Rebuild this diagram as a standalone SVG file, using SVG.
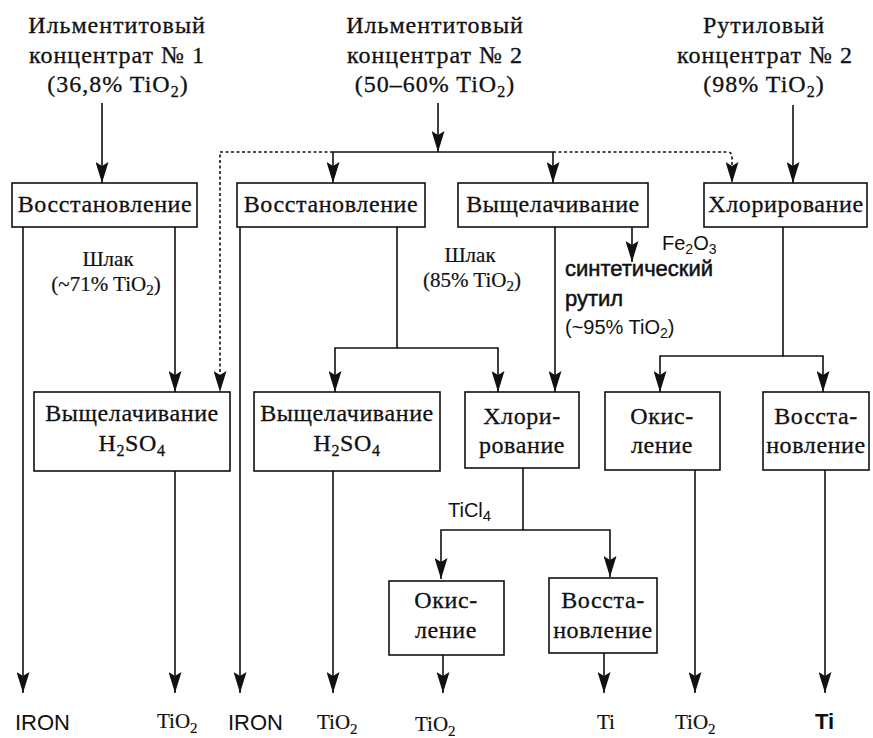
<svg xmlns="http://www.w3.org/2000/svg" width="873" height="738" viewBox="0 0 873 738">
<style>
.bg{fill:#fff}
.box{fill:#fff;stroke:#111;stroke-width:1.6}
.hd{font-family:"Liberation Serif","Times New Roman",serif;font-size:24px;letter-spacing:1px;fill:#111;stroke:#111;stroke-width:0.3;text-anchor:middle}
.bt{font-family:"Liberation Serif","Times New Roman",serif;font-size:24px;letter-spacing:0.6px;fill:#111;stroke:#111;stroke-width:0.3;text-anchor:middle}
.lb{font-family:"Liberation Serif","Times New Roman",serif;font-size:21px;fill:#111;stroke:#111;stroke-width:0.2;text-anchor:middle}
.sn{font-family:"Liberation Sans",Arial,sans-serif;font-size:22px;fill:#111}
.ss{font-family:"Liberation Sans",Arial,sans-serif;font-size:20px;fill:#111}
.ot{font-family:"Liberation Serif","Times New Roman",serif;font-size:21px;fill:#111;stroke:#111;stroke-width:0.2}
.ln{fill:none;stroke:#111;stroke-width:1.6}
.ds{fill:none;stroke:#111;stroke-width:1.6;stroke-dasharray:3 2.5}
</style>
<defs>
<marker id="ah" markerWidth="13" markerHeight="21" refX="6.5" refY="21" orient="0" markerUnits="userSpaceOnUse" viewBox="0 0 13 21">
<path d="M0,0 L6.5,4 L13,0 L6.5,21 z" fill="#111"/>
</marker>
</defs>
<rect class="bg" x="0" y="0" width="873" height="738"/>

<g id="src1">
<text class="hd" x="117" y="33">Ильментитовый</text>
<text class="hd" x="117" y="63">концентрат № 1</text>
<text class="hd" x="118" y="92">(36,8% TiO<tspan dy="5" font-size="16">2</tspan><tspan dy="-5">)</tspan></text>
</g>
<g id="src2">
<text class="hd" x="435" y="33">Ильментитовый</text>
<text class="hd" x="435" y="63">концентрат № 2</text>
<text class="hd" x="435" y="92">(50–60% TiO<tspan dy="5" font-size="16">2</tspan><tspan dy="-5">)</tspan></text>
</g>
<g id="src3">
<text class="hd" x="764" y="33">Рутиловый</text>
<text class="hd" x="765" y="63">концентрат № 2</text>
<text class="hd" x="764" y="92">(98% TiO<tspan dy="5" font-size="16">2</tspan><tspan dy="-5">)</tspan></text>
</g>

<g id="connectors">
<path class="ln" d="M102,103 V183" marker-end="url(#ah)"/>
<path class="ln" d="M438,103 V152" marker-end="url(#ah)"/>
<path class="ln" d="M333,152 H553"/>
<path class="ln" d="M333,152 V183" marker-end="url(#ah)"/>
<path class="ln" d="M553,152 V183" marker-end="url(#ah)"/>
<path class="ds" d="M333,152 H220 V392" marker-end="url(#ah)"/>
<path class="ds" d="M553,152 H727 Q732,152 732,157 V183" marker-end="url(#ah)"/>
<path class="ln" d="M793,105 V183" marker-end="url(#ah)"/>
<path class="ln" d="M23,227 V693" marker-end="url(#ah)"/>
<path class="ln" d="M175,227 V392" marker-end="url(#ah)"/>
<path class="ln" d="M240,227 V693" marker-end="url(#ah)"/>
<path class="ln" d="M397,227 V348 H335 V392" marker-end="url(#ah)"/>
<path class="ln" d="M397,348 H498 V392" marker-end="url(#ah)"/>
<path class="ln" d="M555,227 V392" marker-end="url(#ah)"/>
<path class="ln" d="M632,227 V262" marker-end="url(#ah)"/>
<path class="ln" d="M783,227 V356 H660 V392" marker-end="url(#ah)"/>
<path class="ln" d="M783,356 H823 V392" marker-end="url(#ah)"/>
<path class="ln" d="M175,471 V693" marker-end="url(#ah)"/>
<path class="ln" d="M333,471 V693" marker-end="url(#ah)"/>
<path class="ln" d="M523,468 V530 H441 V579" marker-end="url(#ah)"/>
<path class="ln" d="M523,530 H610 V577" marker-end="url(#ah)"/>
<path class="ln" d="M695,470 V693" marker-end="url(#ah)"/>
<path class="ln" d="M825,470 V693" marker-end="url(#ah)"/>
<path class="ln" d="M443,655 V693" marker-end="url(#ah)"/>
<path class="ln" d="M604,653 V693" marker-end="url(#ah)"/>
</g>

<g id="red1">
<rect class="box" x="12" y="183" width="185" height="44"/>
<text class="bt" x="105" y="212">Восстановление</text>
</g>
<g id="red2">
<rect class="box" x="237" y="183" width="188" height="44"/>
<text class="bt" x="331" y="212">Восстановление</text>
</g>
<g id="leach">
<rect class="box" x="458" y="183" width="190" height="44"/>
<text class="bt" x="553" y="212">Выщелачивание</text>
</g>
<g id="chlor1">
<rect class="box" x="704" y="183" width="163" height="44"/>
<text class="bt" x="786" y="212">Хлорирование</text>
</g>

<g id="leachH2SO4a">
<rect class="box" x="34" y="392" width="196" height="79"/>
<text class="bt" x="132" y="421">Выщелачивание</text>
<text class="bt" x="132" y="451">H<tspan dy="5" font-size="16">2</tspan><tspan dy="-5">SO</tspan><tspan dy="5" font-size="16">4</tspan></text>
</g>
<g id="leachH2SO4b">
<rect class="box" x="254" y="392" width="186" height="79"/>
<text class="bt" x="347" y="421">Выщелачивание</text>
<text class="bt" x="347" y="451">H<tspan dy="5" font-size="16">2</tspan><tspan dy="-5">SO</tspan><tspan dy="5" font-size="16">4</tspan></text>
</g>
<g id="chlor2">
<rect class="box" x="465" y="392" width="114" height="76"/>
<text class="bt" x="522" y="424">Хлори-</text>
<text class="bt" x="522" y="453">рование</text>
</g>
<g id="ox1">
<rect class="box" x="605" y="392" width="115" height="78"/>
<text class="bt" x="662" y="424">Окис-</text>
<text class="bt" x="662" y="453">ление</text>
</g>
<g id="red3">
<rect class="box" x="763" y="392" width="106" height="78"/>
<text class="bt" x="816" y="424">Восста-</text>
<text class="bt" x="816" y="453">новление</text>
</g>
<g id="ox2">
<rect class="box" x="389" y="581" width="115" height="74"/>
<text class="bt" x="446" y="608">Окис-</text>
<text class="bt" x="446" y="638">ление</text>
</g>
<g id="red4">
<rect class="box" x="549" y="578" width="108" height="75"/>
<text class="bt" x="603" y="608">Восста-</text>
<text class="bt" x="603" y="638">новление</text>
</g>

<g id="labels">
<text class="lb" x="108" y="266">Шлак</text>
<text class="lb" x="106" y="291">(~71% TiO<tspan dy="4" font-size="15">2</tspan><tspan dy="-4">)</tspan></text>
<text class="lb" x="470" y="262">Шлак</text>
<text class="lb" x="472" y="287">(85% TiO<tspan dy="4" font-size="15">2</tspan><tspan dy="-4">)</tspan></text>
<text class="ss" x="662" y="250">Fe<tspan dy="4" font-size="14">2</tspan><tspan dy="-4">O</tspan><tspan dy="4" font-size="14">3</tspan></text>
<text class="sn" x="565" y="276" font-size="24" stroke="#111" stroke-width="0.5">синтетический</text>
<text class="sn" x="565" y="306" font-size="24" stroke="#111" stroke-width="0.5">рутил</text>
<text class="ss" x="565" y="334">(~95% TiO<tspan dy="4" font-size="14">2</tspan><tspan dy="-4">)</tspan></text>
<text class="ss" x="448" y="517" font-size="22">TiCl<tspan dy="4" font-size="15">4</tspan></text>
</g>

<g id="outputs">
<text class="sn" x="15" y="730" font-size="21">IRON</text>
<text class="ot" x="157" y="728">TiO<tspan dy="5" font-size="15">2</tspan></text>
<text class="sn" x="228" y="730" font-size="21">IRON</text>
<text class="ot" x="317" y="729">TiO<tspan dy="5" font-size="15">2</tspan></text>
<text class="ot" x="415" y="731">TiO<tspan dy="5" font-size="15">2</tspan></text>
<text class="ot" x="597" y="729">Ti</text>
<text class="ot" x="675" y="729">TiO<tspan dy="5" font-size="15">2</tspan></text>
<text class="sn" x="815" y="729" font-size="21" font-weight="bold">Ti</text>
</g>
</svg>
